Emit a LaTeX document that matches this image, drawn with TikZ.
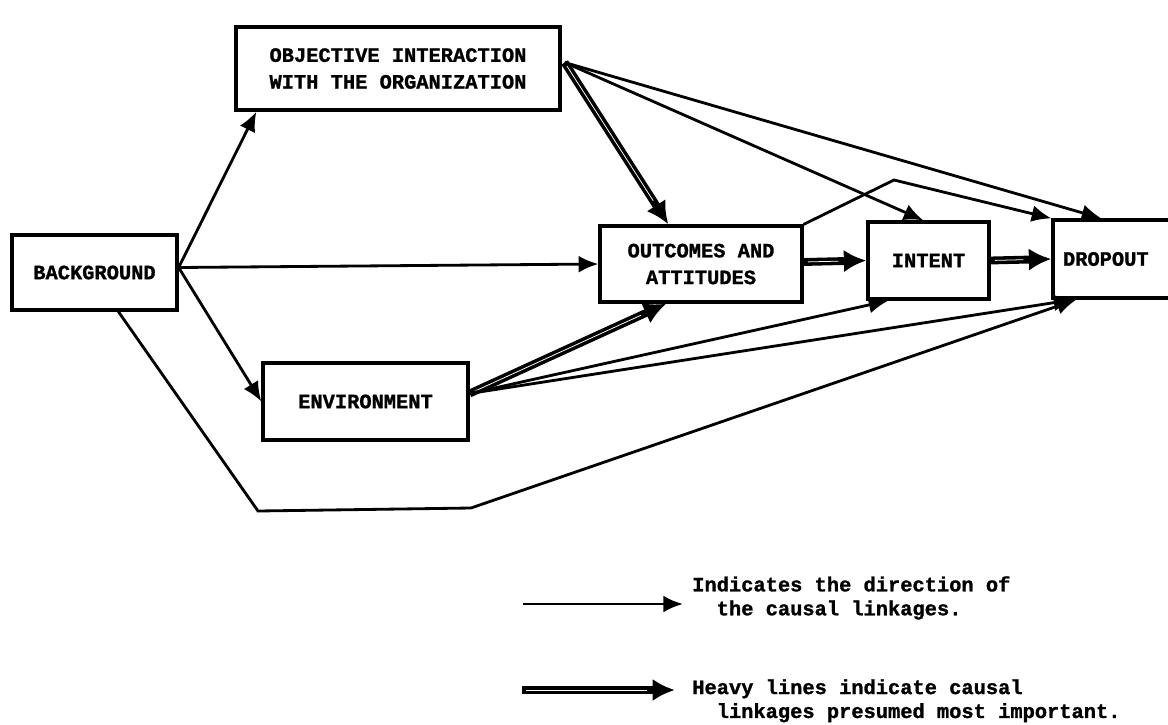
\documentclass[tikz,border=0pt]{standalone}
\usepackage{fontspec}
\setmonofont{Liberation Mono}[BoldFeatures={FakeBold=1.2}]
\usetikzlibrary{arrows.meta,calc}

\begin{document}
\begin{tikzpicture}[x=0.025cm,y=-0.025cm,
  font=\ttfamily\bfseries\fontsize{14.5}{19}\selectfont,
  box/.style={draw, line width=2.3pt, align=center, inner sep=0pt},
  thinlink/.style={line width=2pt, -{Latex[length=14pt,width=12pt]}},
  heavylink/.style={line width=5.6pt, -{Latex[length=16pt,width=16pt]},
    postaction={draw=white, line width=0.55pt, -, shorten >=20pt, shorten <=3pt}},
  legendtext/.style={anchor=north west, align=left, inner sep=0pt,
    font=\ttfamily\bfseries\fontsize{14.5}{17}\selectfont},
]
\useasboundingbox (0,0) rectangle (1168,724);

% the six blocks of the model
\node[box, minimum width=8.1cm, minimum height=2.075cm] (obj) at (398,68.5)
  {OBJECTIVE INTERACTION\\WITH THE ORGANIZATION};
\node[box, minimum width=4.125cm, minimum height=1.875cm] (bg) at (94.5,272.5) {BACKGROUND};
\node[box, minimum width=5.05cm, minimum height=1.9cm] (out) at (701,264) {OUTCOMES AND\\ATTITUDES};
\node[box, minimum width=3.025cm, minimum height=1.925cm] (int) at (928.5,260.5) {INTENT};
\node[box, minimum width=3.425cm, minimum height=1.95cm, text width=2.925cm,
  align=left, inner xsep=0.25cm] (drop) at (1121.5,259) {DROPOUT};
\node[box, minimum width=5.125cm, minimum height=1.925cm] (env) at (365.5,401.5) {ENVIRONMENT};

% links leaving BACKGROUND
\coordinate (bgout) at ($(bg.east)+(0,-5)$);
\draw[thinlink] (bgout) -- ($(obj.south west)+(22,0)$);
\draw[thinlink] (bgout) -- (out.west);
\draw[thinlink] (bgout) -- (env.west);
\coordinate (loopa) at (258,511);
\coordinate (loopb) at (471,508);
\draw[thinlink] ($(bg.south west)+(108,0)$) -- (loopa) -- (loopb) -- ($(drop.south west)+(25,0)$);

% links leaving OBJECTIVE INTERACTION
\coordinate (objout) at ($(obj.east)+(3,-6)$);
\draw[heavylink] (objout) -- ($(out.north west)+(70,0)$);
\draw[thinlink] (objout) -- ($(int.north west)+(57,0)$);
\draw[thinlink] (objout) -- ($(drop.north west)+(50,0)$);

% links leaving OUTCOMES AND ATTITUDES and INTENT
\coordinate (kink) at (894,180);
\draw[thinlink] (out.north east) -- (kink) -- (drop.north west);
\draw[heavylink] ($(out.east)+(0,-2)$) -- (int.west);
\draw[heavylink] (int.east) -- (drop.west);

% links leaving ENVIRONMENT
\coordinate (envout) at ($(env.east)+(0,-8)$);
\draw[heavylink] (envout) -- ($(out.south west)+(68,0)$);
\draw[thinlink] (envout) -- ($(int.south west)+(22,0)$);
\draw[thinlink] (envout) -- ($(drop.south west)+(22,0)$);

% legend
\coordinate (lega) at (523,604);
\coordinate (legb) at (683,604);
\draw[thinlink] (lega) -- (legb);
\node[legendtext] (legt1) at (692,576)
  {Indicates the direction of\\\hspace*{17.4pt}the causal linkages.};
\coordinate (legc) at (522,690);
\coordinate (legd) at (675,690);
\draw[heavylink] (legc) -- (legd);
\node[legendtext] (legt2) at (692,679)
  {Heavy lines indicate causal\\\hspace*{17.4pt}linkages presumed most important.};
\end{tikzpicture}
\end{document}
